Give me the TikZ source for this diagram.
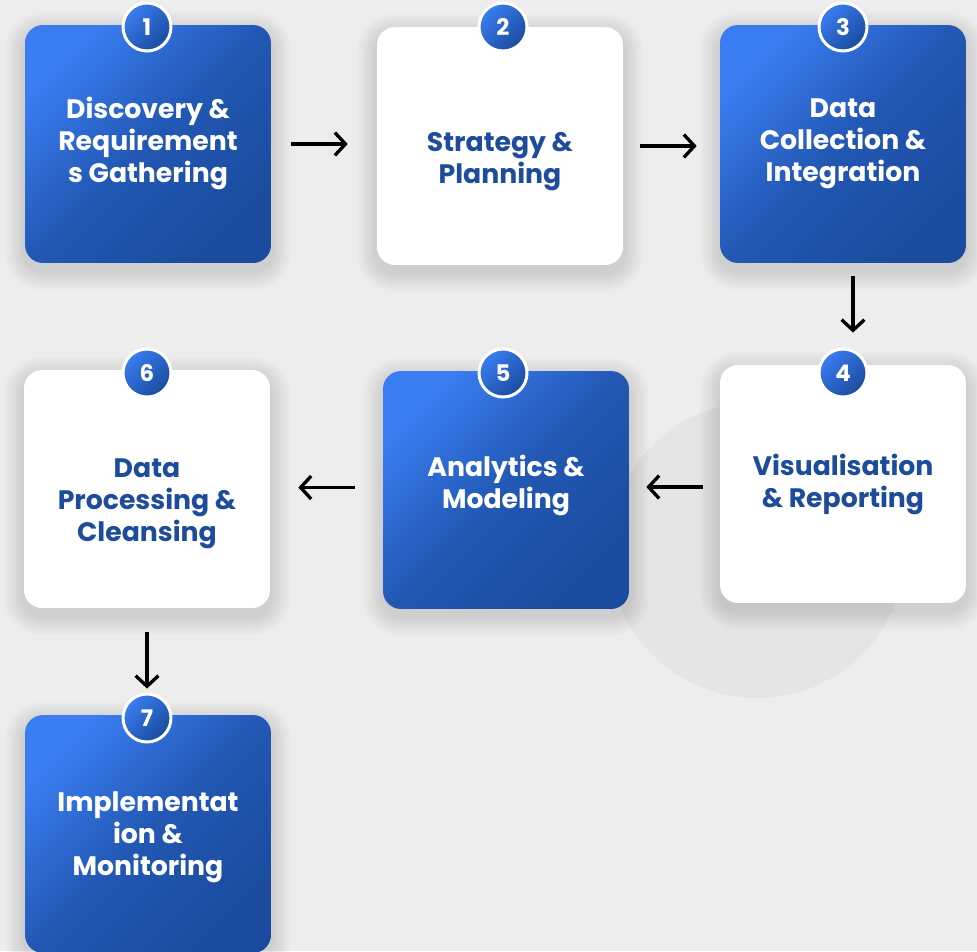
\documentclass[tikz,border=0pt]{standalone}
\usepackage{fontspec}
\setmainfont{Poppins}
\usetikzlibrary{arrows.meta, backgrounds, calc}

\definecolor{bgcol}{HTML}{EDEDED}
\definecolor{blobcol}{HTML}{E5E5E5}
\definecolor{blueA}{HTML}{3A7DF2}
\definecolor{blueB}{HTML}{1A4B9E}
\definecolor{txtblue}{HTML}{1D4C9B}

\begin{document}
\begin{tikzpicture}[x=0.02cm, y=-0.02cm,
    card/.style={rounded corners=0.36cm, minimum width=4.92cm, minimum height=4.76cm},
    bluecard/.style={card, top color=blueA, bottom color=blueB, middle color=blueB!75!blueA,
        shading angle=45},
    whitecard/.style={card, fill=white},
    cardtxt/.style={align=center, font=\fontsize{15.2}{18.2}\selectfont\bfseries},
    badge/.style={circle, minimum size=0.96cm, inner sep=0pt, draw=white, line width=1.7pt,
        top color=blueA, bottom color=blueB, shading angle=45, text=white,
        font=\fontsize{13}{13}\selectfont\bfseries},
    flow/.style={-{Straight Barb[length=6pt, width=13pt]}, line width=1.9pt, black}]

    \useasboundingbox (0,0) rectangle (977,951);

    % the seven cards
    \node[bluecard] (b1) at (148,144) {};
    \node[whitecard] (b2) at (500,146) {};
    \node[bluecard] (b3) at (843,144) {};
    \node[whitecard] (b4) at (843,484) {};
    \node[bluecard] (b5) at (506,490) {};
    \node[whitecard] (b6) at (147,489) {};
    \node[bluecard] (b7) at (148,834) {};

    % their texts
    \node[cardtxt, text=white] (t1) at ([yshift=0.02cm]b1) {Discovery \&\\Requirement\\s Gathering};
    \node[cardtxt, text=txtblue] (t2) at ([yshift=-0.32cm]b2) {Strategy \&\\Planning};
    \node[cardtxt, text=white] (t3) at (b3) {Data\\Collection \&\\Integration};
    \node[cardtxt, text=txtblue] (t4) at (b4) {Visualisation\\\& Reporting};
    \node[cardtxt, text=white] (t5) at ([yshift=0.1cm]b5) {Analytics \&\\Modeling};
    \node[cardtxt, text=txtblue] (t6) at ([yshift=-0.3cm]b6) {Data\\Processing \&\\Cleansing};
    \node[cardtxt, text=white] (t7) at ([yshift=-0.06cm]b7) {Implementat\\ion \&\\Monitoring};

    % number badges
    \node[badge] (n1) at (147,27) {1};
    \node[badge] (n2) at (503,27) {2};
    \node[badge] (n3) at (843,27) {3};
    \node[badge] (n4) at (843,373) {4};
    \node[badge] (n5) at (503,373) {5};
    \node[badge] (n6) at (147,373) {6};
    \node[badge] (n7) at (147,718) {7};

    % arrows
    \draw[flow, shorten <=0.4cm, shorten >=0.58cm] (b1.east) -- (b1.east -| b2.west);
    \draw[flow, shorten <=0.34cm, shorten >=0.46cm] (b2.east) -- (b2.east -| b3.west);
    \draw[flow, shorten <=0.26cm, shorten >=0.3cm] ([xshift=0.2cm]b3.south) -- ([xshift=0.2cm]n4.north);
    \draw[flow, shorten <=0.34cm, shorten >=0.34cm] ([yshift=-0.06cm]b4.west) -- ([yshift=-0.06cm]b4.west -| b5.east);
    \draw[flow, shorten <=0.56cm, shorten >=0.56cm] ([yshift=0.05cm]b5.west) -- ([yshift=0.05cm]b5.west -| b6.east);
    \draw[flow, shorten <=0.48cm, shorten >=0.08cm] (b6.south) -- (n7.north);

    % background, pale disc and soft shadows
    \begin{scope}[on background layer]
        \fill[bgcol] (0,0) rectangle (977,951);
        \fill[blobcol] (757,550) circle (2.96cm);
        \foreach \b in {b1,b2,b3,b4,b5,b6,b7}
            \foreach \s in {2,4,...,20}
                \fill[black, opacity=0.011, rounded corners={0.36cm+\s*0.02cm}]
                    ([shift={(-\s,\s+7)}]\b.south west) rectangle ([shift={(\s,-\s+7)}]\b.north east);
    \end{scope}
\end{tikzpicture}
\end{document}
